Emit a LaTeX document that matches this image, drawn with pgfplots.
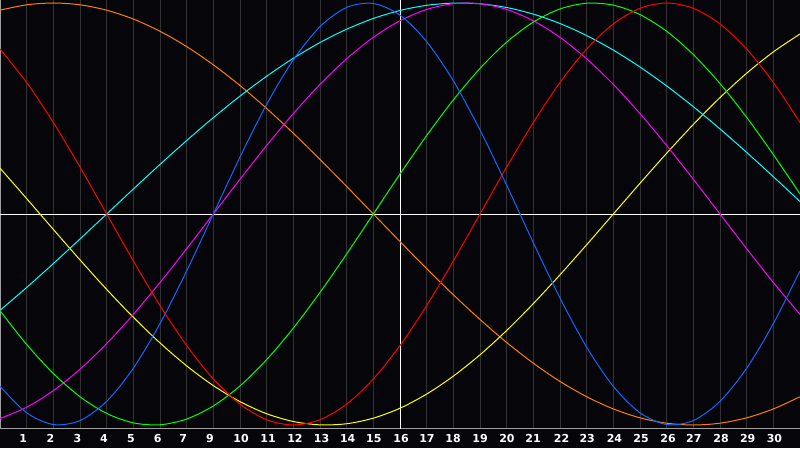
\documentclass[border=0pt]{standalone}
\usepackage{fontspec}
\setmainfont{DejaVu Sans}
\usepackage{pgfplots}
\pgfplotsset{compat=1.18}

\definecolor{bg}{RGB}{6,6,10}
\definecolor{gridgray}{RGB}{50,50,52}
\definecolor{framegray}{RGB}{160,160,160}
\definecolor{cOrange}{RGB}{255,128,0}
\definecolor{cRed}{RGB}{255,0,0}
\definecolor{cYellow}{RGB}{255,255,0}
\definecolor{cCyan}{RGB}{0,255,255}
\definecolor{cMagenta}{RGB}{255,0,255}
\definecolor{cBlue}{RGB}{16,104,255}
\definecolor{cGreen}{RGB}{0,255,0}

\begin{document}
\begin{tikzpicture}
\fill[bg] (0,0) rectangle (800pt,448pt);
\begin{axis}[
    at={(0pt,20pt)}, anchor=south west,
    scale only axis, width=800pt, height=428pt,
    xmin=0, xmax=30, ymin=-1.0142, ymax=1.0142,
    axis line style={framegray, line width=1pt},
    ytick=\empty,
    xtick={0.874,1.894,2.906,3.9,4.913,5.914,6.874,7.875,9.04,10.05,11.06,12.06,13.04,14.02,15.04,16.01,16.99,18.0,19.01,19.99,21.06,22.02,23.04,24.04,25.05,26.02,27.04,28.04,29.04},
    xticklabels={1,2,3,4,5,6,7,9,10,11,12,13,14,15,16,17,18,19,20,21,22,23,24,25,26,27,28,29,30},
    major tick length=0pt,
    xticklabel style={font=\bfseries\fontsize{11}{12}\selectfont, text=white, anchor=base, yshift=-14pt},
    extra x ticks={1,2,3,4,5,6,7,8,9,10,11,12,13,14,16,17,18,19,20,21,22,23,24,25,26,27,28,29},
    extra x tick labels={},
    extra x tick style={grid=major, major grid style={gridgray, line width=1pt}},
    every axis plot/.append style={line width=1pt, smooth, no marks},
    clip=true,
]
% centre lines
\addplot[white, sharp plot] coordinates {(0,0) (30,0)};
\addplot[white, sharp plot] coordinates {(15,-1.1) (15,1.1)};

% orange
\addplot[cOrange] coordinates {
(0,0.9659) (1,0.9914) (2,1) (3,0.9914) (4,0.9659) (5,0.9239) (6,0.8660) (7,0.7934)
(8,0.7071) (9,0.6088) (10,0.5) (11,0.3827) (12,0.2588) (13,0.1305) (14,0) (15,-0.1305)
(16,-0.2588) (17,-0.3827) (18,-0.5) (19,-0.6088) (20,-0.7071) (21,-0.7934) (22,-0.8660)
(23,-0.9239) (24,-0.9659) (25,-0.9914) (26,-1) (27,-0.9914) (28,-0.9659) (29,-0.9239) (30,-0.8660)};

% yellow
\addplot[cYellow] coordinates {
(0,0.2174) (1,0.0730) (2,-0.0730) (3,-0.2174) (4,-0.3573) (5,-0.4894) (6,-0.6109) (7,-0.7197)
(8,-0.8133) (9,-0.8892) (10,-0.9465) (11,-0.9834) (12,-0.9993) (13,-0.9940) (14,-0.9675)
(15,-0.9204) (16,-0.8533) (17,-0.7683) (18,-0.6672) (19,-0.5519) (20,-0.4245) (21,-0.2881)
(22,-0.1456) (23,0) (24,0.1456) (25,0.2881) (26,0.4245) (27,0.5519) (28,0.6672) (29,0.7683) (30,0.8533)};

% cyan
\addplot[cCyan] coordinates {
(0,-0.4566) (1,-0.3482) (2,-0.2349) (3,-0.1183) (4,0) (5,0.1183) (6,0.2349) (7,0.3482)
(8,0.4566) (9,0.5587) (10,0.6529) (11,0.7380) (12,0.8126) (13,0.8758) (14,0.9267) (15,0.9646)
(16,0.9890) (17,0.9996) (18,0.9961) (19,0.9786) (20,0.9473) (21,0.9028) (22,0.8457)
(23,0.7767) (24,0.6965) (25,0.6069) (26,0.5085) (27,0.4031) (28,0.2920) (29,0.1769) (30,0.0592)};

% magenta
\addplot[cMagenta] coordinates {
(0,-0.9694) (1,-0.9158) (2,-0.8372) (3,-0.7357) (4,-0.6142) (5,-0.4759) (6,-0.3247) (7,-0.1646)
(8,0) (9,0.1646) (10,0.3247) (11,0.4759) (12,0.6142) (13,0.7357) (14,0.8372) (15,0.9158)
(16,0.9694) (17,0.9966) (18,0.9966) (19,0.9694) (20,0.9158) (21,0.8372) (22,0.7357)
(23,0.6142) (24,0.4759) (25,0.3247) (26,0.1646) (27,0) (28,-0.1646) (29,-0.3247) (30,-0.4759)};

% green
\addplot[cGreen] coordinates {
(0,-0.4582) (1,-0.6182) (2,-0.7557) (3,-0.8660) (4,-0.9450) (5,-0.9898) (6,-0.9989) (7,-0.9718)
(8,-0.9096) (9,-0.8146) (10,-0.6901) (11,-0.5406) (12,-0.3717) (13,-0.1893) (14,0) (15,0.1893)
(16,0.3717) (17,0.5406) (18,0.6901) (19,0.8146) (20,0.9096) (21,0.9718) (22,0.9989)
(23,0.9898) (24,0.9450) (25,0.8660) (26,0.7557) (27,0.6182) (28,0.4582) (29,0.2817) (30,0.0951)};

% red
\addplot[cRed] coordinates {
(0,0.7818) (1,0.6235) (2,0.4339) (3,0.2225) (4,0) (5,-0.2225) (6,-0.4339) (7,-0.6235)
(8,-0.7818) (9,-0.9010) (10,-0.9749) (11,-1) (12,-0.9749) (13,-0.9010) (14,-0.7818) (15,-0.6235)
(16,-0.4339) (17,-0.2225) (18,0) (19,0.2225) (20,0.4339) (21,0.6235) (22,0.7818)
(23,0.9010) (24,0.9749) (25,1) (26,0.9749) (27,0.9010) (28,0.7818) (29,0.6235) (30,0.4339)};

% blue
\addplot[cBlue] coordinates {
(0,-0.8170) (1,-0.9423) (2,-0.9977) (3,-0.9791) (4,-0.8879) (5,-0.7308) (6,-0.5196) (7,-0.2698)
(8,0) (9,0.2698) (10,0.5196) (11,0.7308) (12,0.8879) (13,0.9791) (14,0.9977) (15,0.9423)
(16,0.8170) (17,0.6311) (18,0.3984) (19,0.1362) (20,-0.1362) (21,-0.3984) (22,-0.6311)
(23,-0.8170) (24,-0.9423) (25,-0.9977) (26,-0.9791) (27,-0.8879) (28,-0.7308) (29,-0.5196) (30,-0.2698)};
\end{axis}
\pgfresetboundingbox
\path[use as bounding box] (0,0) rectangle (800pt,448pt);
\end{tikzpicture}
\end{document}
